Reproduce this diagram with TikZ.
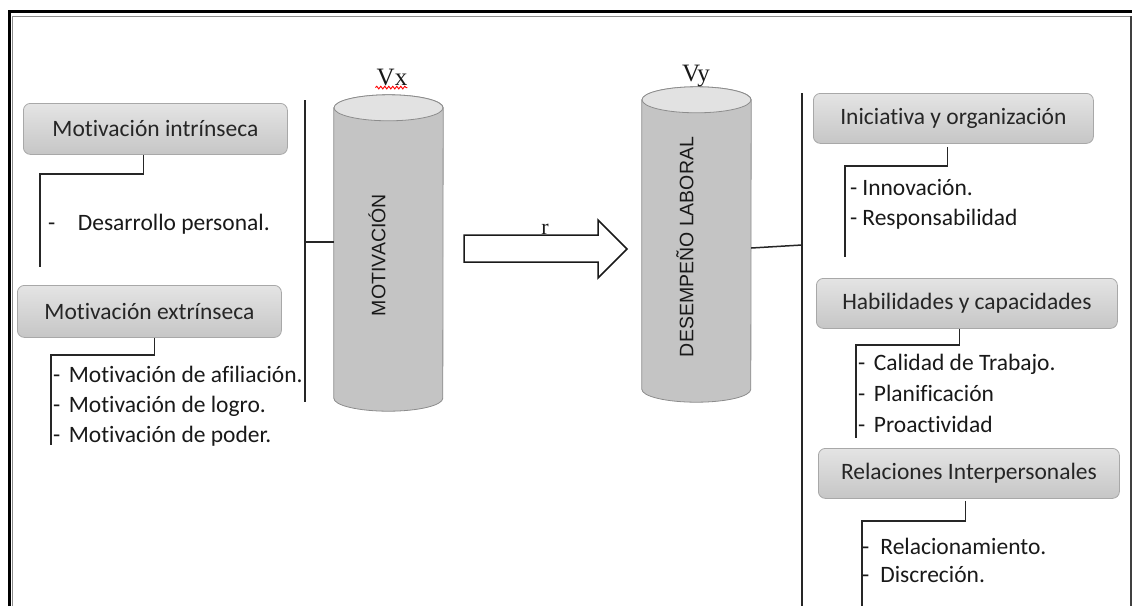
\documentclass[tikz,border=0pt]{standalone}
\usepackage{fontspec}
\setmainfont[Ligatures={NoCommon}]{Carlito}
\newfontfamily\arialf{Liberation Sans}
\newfontfamily\timesf{Liberation Serif}
\usetikzlibrary{decorations.pathmorphing,calc}
\definecolor{cylbody}{HTML}{C4C4C4}
\definecolor{cyltop}{HTML}{E2E2E2}
\definecolor{cyledge}{HTML}{8C8C8C}
\definecolor{boxedge}{HTML}{A8A8A8}
\definecolor{boxtop}{HTML}{E4E4E4}
\definecolor{boxbot}{HTML}{C6C6C6}
\begin{document}
\begin{tikzpicture}[x=1pt,y=-1pt,
  catbox/.style={draw=boxedge, line width=0.8pt, rounded corners=7pt, top color=boxtop, bottom color=boxbot,
    inner sep=0pt, text=black!85, font=\fontsize{23.5}{28}\selectfont, anchor=north west},
  item/.style={anchor=mid west, inner sep=0pt, text=black!90, font=\fontsize{23.5}{28}\selectfont},
  link/.style={draw=black!85, line width=1.5pt},
  cyllabel/.style={rotate=90, inner sep=0pt, text=black!90, font=\arialf\fontsize{19.5}{23}\selectfont},
  varlabel/.style={inner sep=0pt, text=black!90, font=\timesf\fontsize{25}{30}\selectfont},
  cylcore/.style={minimum width=109pt, inner sep=0pt}
]
\useasboundingbox (0,0) rectangle (1132,606);
% frame
\draw[line width=3pt, black] (9,606) -- (9,11) -- (1134,11);
\draw[line width=1.5pt, black!45] (12.5,606) -- (12.5,16.5) -- (1130.5,16.5);
\draw[line width=2.5pt, black!75] (1130.8,16) -- (1130.8,606);

% cylinders
\node[cylcore, minimum height=290pt] (cyl1) at (388.5,253) {};
\node[cylcore, minimum height=289pt] (cyl2) at (696.5,244.5) {};
\foreach \c in {cyl1,cyl2}{
  \filldraw[fill=cylbody, draw=cyledge, line width=0.8pt]
    (\c.north west) -- (\c.south west) arc[start angle=180, end angle=360, x radius=54.5pt, y radius=13pt]
    -- (\c.north east) arc[start angle=0, end angle=180, x radius=54.5pt, y radius=13pt] -- cycle;
  \filldraw[fill=cyltop, draw=cyledge, line width=0.8pt] (\c.north) ellipse[x radius=54.5pt, y radius=13pt];
}
\node[cyllabel] (t1) at (377,255) {MOTIVACIÓN};
\node[cyllabel] (t2) at (685,247) {DESEMPEÑO LABORAL};
\node[varlabel] (vx) at (392,77) {Vx};
\node[varlabel] (vy) at (696,76) {Vy};
\draw[red, line width=0.9pt, decorate, decoration={snake, amplitude=1.3pt, segment length=4pt}]
  ($(vx.south west)+(-1,2)$) -- ($(vx.south east)+(0,2)$);

% block arrow
\coordinate (a0) at (464,235);
\draw[line width=1.5pt, black!90, fill=white, line join=miter]
  (a0) -- ++(134,0) -- ++(0,-15) -- ++(29,29) -- ++(-29,29) -- ++(0,-16) -- ++(-134,0) -- cycle;
\node[varlabel, font=\timesf\fontsize{22}{26}\selectfont, anchor=base] (r) at (545,234) {r};

% left side
\node[catbox, minimum width=264pt, minimum height=51pt] (b1) at (23,103) {Motivación intrínseca};
\node[catbox, minimum width=264pt, minimum height=52pt] (b2) at (17,285) {Motivación extrínseca};
\coordinate (e1) at (40,267);
\coordinate (e2) at (51,445);
\draw[link] ($(b1.south)+(-12,0)$) -- ++(0,19) -| (e1);
\draw[link] ($(b2.south)+(5,0)$) -- ++(0,17) -| (e2);
\node[item] (i1) at (48,228) {-\hspace{22.5pt}Desarrollo personal.};
\node[item] (i2) at (53,380) {-\hspace{8.5pt}Motivación de afiliación.};
\node[item] (i3) at (53,410) {-\hspace{8.5pt}Motivación de logro.};
\node[item] (i4) at (53,440) {-\hspace{8.5pt}Motivación de poder.};

\coordinate (lt) at (305,100);
\coordinate (lb) at (305,402);
\coordinate (lj) at (305,242);
\draw[link] (lt) -- (lb);
\draw[link] (lj) -- (lj -| cyl1.west);

% right side
\coordinate (rt) at (802,93);
\coordinate (rb) at (802,606);
\draw[link] (rt) -- (rb);
\draw[link] ($(cyl2.east)+(0,3.5)$) -- (802,245);

\node[catbox, minimum width=280pt, minimum height=50pt] (b3) at (813,93) {Iniciativa y organización};
\node[catbox, minimum width=301pt, minimum height=50pt] (b4) at (816,278) {Habilidades y capacidades};
\node[catbox, minimum width=301pt, minimum height=50pt] (b5) at (818,448) {Relaciones Interpersonales};
\coordinate (e3) at (845,257);
\coordinate (e4) at (856,438);
\coordinate (e5) at (862,606);
\draw[link] ($(b3.south)+(-6,3)$) -- ++(0,19) -| (e3);
\draw[link] ($(b4.south)+(-7.5,0)$) -- ++(0,16) -| (e4);
\draw[link] ($(b5.south)+(-3.5,2)$) -- ++(0,20) -| (e5);
\node[item] (i5) at (850,193) {-\hspace{5pt}Innovación.};
\node[item] (i6) at (850,223) {-\hspace{5pt}Responsabilidad};
\node[item] (i7) at (858,368) {-\hspace{8.5pt}Calidad de Trabajo.};
\node[item] (i8) at (858,399) {-\hspace{8.5pt}Planificación};
\node[item] (i9) at (858,430) {-\hspace{8.5pt}Proactividad};
\node[item] (i10) at (862,552) {-\hspace{11pt}Relacionamiento.};
\node[item] (i11) at (862,580) {-\hspace{11pt}Discreción.};
\end{tikzpicture}
\end{document}
